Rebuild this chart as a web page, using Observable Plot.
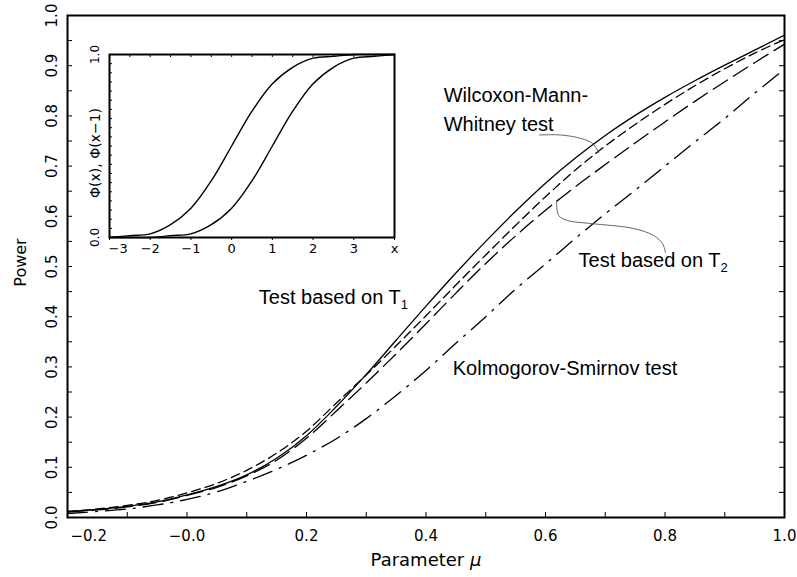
<!DOCTYPE html>
<html><head><meta charset="utf-8">
<script src="https://cdn.jsdelivr.net/npm/d3@7"></script>
<script src="https://cdn.jsdelivr.net/npm/@observablehq/plot@0.6"></script>
<style>
body{margin:0;background:#fff;}
#wrap{position:relative;width:797px;height:577px;background:#fff;}
#wrap svg{position:absolute;}
</style></head><body><div id="wrap"></div>
<script>
// ---- main chart data ----
const mu = [-0.20,-0.15,-0.10,-0.05,0.00,0.05,0.10,0.15,0.20,0.25,0.30,0.35,0.40,0.45,0.50,0.55,0.60,0.65,0.70,0.75,0.80,0.85,0.90,0.95,1.00];
const powerT1  = [0.012,0.016,0.022,0.031,0.045,0.062,0.085,0.118,0.163,0.221,0.285,0.353,0.421,0.487,0.550,0.610,0.666,0.716,0.761,0.801,0.837,0.870,0.901,0.931,0.961];
const powerWMW = [0.012,0.017,0.024,0.034,0.049,0.068,0.094,0.128,0.172,0.228,0.284,0.342,0.402,0.463,0.523,0.582,0.639,0.692,0.740,0.783,0.823,0.860,0.894,0.925,0.952];
const powerT2  = [0.011,0.015,0.021,0.030,0.044,0.060,0.083,0.114,0.158,0.212,0.268,0.326,0.386,0.447,0.506,0.561,0.612,0.659,0.703,0.746,0.788,0.829,0.868,0.906,0.943];
const powerKS  = [0.008,0.012,0.017,0.025,0.036,0.051,0.072,0.096,0.124,0.157,0.197,0.243,0.293,0.347,0.400,0.455,0.505,0.556,0.605,0.652,0.700,0.748,0.795,0.845,0.893];

const xTickValues = [-0.2,0.0,0.2,0.4,0.6,0.8,1.0];
const xTickLabels = ["\u22120.2","\u22120.0","0.2","0.4","0.6","0.8","1.0"];
const yTickValues = [0.0,0.1,0.2,0.3,0.4,0.5,0.6,0.7,0.8,0.9,1.0];
const yTickLabels = ["0.0","0.1","0.2","0.3","0.4","0.5","0.6","0.7","0.8","0.9","1.0"];
const xMinorTicks = [-0.2,-0.1,0.0,0.1,0.2,0.3,0.4,0.5,0.6,0.7,0.8,0.9,1.0];
const yMinorTicks = [0,0.05,0.1,0.15,0.2,0.25,0.3,0.35,0.4,0.45,0.5,0.55,0.6,0.65,0.7,0.75,0.8,0.85,0.9,0.95,1.0];

// annotations (data coordinates)
const noteText  = ["Wilcoxon-Mann-","Whitney test","Test based on T\u2082","Test based on T\u2081","Kolmogorov-Smirnov test"];
const noteMu    = [0.4295,0.4295,0.6553,0.1202,0.4448];
const notePower = [0.827,0.769,0.500,0.426,0.283];
const wmwLeaderMu = [0.590,0.625,0.660,0.679,0.689];
const wmwLeaderP  = [0.762,0.762,0.755,0.745,0.727];
const t2LeaderMu  = [0.6185,0.6219,0.6369,0.6754,0.7473,0.7808,0.7958,0.8008];
const t2LeaderP   = [0.6315,0.6016,0.5916,0.5857,0.5757,0.5618,0.5458,0.5279];

// ---- inset data ----
const phiX  = [-3,-2.5,-2,-1.5,-1,-0.5,0,0.5,1,1.5,2,2.5,3,3.5,4];
const phi0  = [0.00,0.01,0.02,0.07,0.16,0.31,0.50,0.69,0.84,0.93,0.98,0.99,1.00,1.00,1.00];
const phi1  = [0.00,0.00,0.00,0.01,0.02,0.07,0.16,0.31,0.50,0.69,0.84,0.93,0.98,0.99,1.00];
const insetXTicks = [-3,-2,-1,0,1,2,3,4];
const insetXLabels = ["\u22123","\u22122","\u22121","0","1","2","3","x"];
const insetTopTicks = [-3,-2.5,-2,-1.5,-1,-0.5,0,0.5,1,1.5,2,2.5,3,3.5,4];
const insetYTicks = [0,0.05,0.1,0.15,0.2,0.25,0.3,0.35,0.4,0.45,0.5,0.55,0.6,0.65,0.7,0.75,0.8,0.85,0.9,0.95,1.0];
const insetYLabelValues = [0,1];
const insetYLabels = ["0.0","1.0"];

// ---- build main ----
const W=797,H=577,mL=67,mR=13,mT=15,mB=60;
const fw=W-mL-mR, fh=H-mT-mB;
const series = [
  {key:"T1", vals:powerT1, dash:null},
  {key:"WMW", vals:powerWMW, dash:"9,5"},
  {key:"T2", vals:powerT2, dash:"17,7"},
  {key:"KS", vals:powerKS, dash:"20,8,2,8"}
];
const rows = series.flatMap(s => mu.map((m,i)=>({mu:m, power:s.vals[i], test:s.key})));
const notes = noteText.map((t,i)=>({t, mu:noteMu[i], p:notePower[i]}));
const xLab = xTickValues.map((v,i)=>({v, t:xTickLabels[i]}));
const yLab = yTickValues.map((v,i)=>({v, t:yTickLabels[i]}));
const tickFont = "DejaVu Sans";

const main = Plot.plot({
  width:W, height:H, marginLeft:mL, marginRight:mR, marginTop:mT, marginBottom:mB,
  style:{background:"transparent", fontFamily:tickFont},
  x:{domain:[-0.2,1.0], axis:null},
  y:{domain:[0,1], axis:null},
  marks:[
    ...series.map(s => Plot.line(rows.filter(r=>r.test===s.key), {x:"mu", y:"power", stroke:"black", strokeWidth:1.3, strokeDasharray:s.dash, curve:"catmull-rom"})),
    Plot.line(wmwLeaderMu.map((m,i)=>({m,p:wmwLeaderP[i]})), {x:"m", y:"p", stroke:"#555", strokeWidth:0.9, curve:"catmull-rom"}),
    Plot.line(t2LeaderMu.map((m,i)=>({m,p:t2LeaderP[i]})), {x:"m", y:"p", stroke:"#555", strokeWidth:0.9, curve:"catmull-rom"}),
    Plot.text(notes, {x:"mu", y:"p", text:"t", textAnchor:"start", lineAnchor:"bottom", fontSize:20, fontFamily:"Liberation Sans", fill:"black"}),
    Plot.tickY(yMinorTicks, {y:d=>d, insetRight:fw-5, stroke:"black"}),
    Plot.tickY(yMinorTicks, {y:d=>d, insetLeft:fw-5, stroke:"black"}),
    Plot.tickX(xMinorTicks, {x:d=>d, insetTop:fh-5, stroke:"black"}),
    Plot.frame({stroke:"black", strokeWidth:2}),
    Plot.text(xLab.slice(0,1), {x:"v", y:()=>0, text:"t", dy:19, dx:3, textAnchor:"start", fontSize:15}),
    Plot.text(xLab.slice(1), {x:"v", y:()=>0, text:"t", dy:19, fontSize:15}),
    Plot.text(yLab, {x:()=>-0.2, y:"v", text:"t", dx:-15, rotate:-90, fontSize:15}),
    Plot.text(["Parameter \u03bc"], {frameAnchor:"bottom", textAnchor:"middle", dy:48, fontSize:18, letterSpacing:2}),
    Plot.text(["Power"], {frameAnchor:"left", textAnchor:"middle", dx:-47, dy:-4, rotate:-90, fontSize:16, letterSpacing:1})
  ]
});
main.style.left="0px"; main.style.top="0px";

// ---- build inset ----
const iW=340, iH=230, iL=39, iR=16, iT=14, iB=33;
const ifw=iW-iL-iR, ifh=iH-iT-iB;
const phiRows = phiX.flatMap((x,i)=>[{x, p:phi0[i], c:"a"},{x, p:phi1[i], c:"b"}]);
const iXLab = insetXTicks.map((v,i)=>({v, t:insetXLabels[i]}));
const iYLab = insetYLabelValues.map((v,i)=>({v, t:insetYLabels[i]}));
const inset = Plot.plot({
  width:iW, height:iH, marginLeft:iL, marginRight:iR, marginTop:iT, marginBottom:iB,
  style:{background:"transparent", fontFamily:tickFont},
  x:{domain:[-3,4], axis:null},
  y:{domain:[0,1], axis:null},
  marks:[
    Plot.line(phiRows, {x:"x", y:"p", z:"c", stroke:"black", strokeWidth:1.4, curve:"catmull-rom"}),
    Plot.tickY(insetYTicks, {y:d=>d, insetRight:ifw-3, stroke:"black"}),
    Plot.tickX(insetTopTicks, {x:d=>d, insetBottom:ifh-3, stroke:"black"}),
    Plot.axisX(insetXTicks, {anchor:"bottom", tickSize:3, tickFormat:()=>"", stroke:"black"}),
    Plot.frame({stroke:"black", strokeWidth:2}),
    Plot.text(iXLab.slice(0,1), {x:"v", y:()=>0, text:"t", dy:11, dx:-1, textAnchor:"start", fontSize:13}),
    Plot.text(iXLab.slice(1), {x:"v", y:()=>0, text:"t", dy:11, fontSize:13}),
    Plot.text(iYLab, {x:()=>-3, y:"v", text:"t", dx:-14, rotate:-90, fontSize:12}),
    Plot.text(["\u03a6(x), \u03a6(x\u22121)"], {frameAnchor:"left", textAnchor:"middle", dx:-14, dy:7, rotate:-90, fontSize:14, letterSpacing:1})
  ]
});
inset.style.left="70px"; inset.style.top="40px";

const wrap = document.getElementById("wrap");
wrap.appendChild(main);
wrap.appendChild(inset);

// real subscripts / italic mu
wrap.querySelectorAll("text").forEach(el=>{
  const s = el.textContent;
  if (s.endsWith("T\u2081") || s.endsWith("T\u2082")) {
    const sub = s.endsWith("\u2081") ? "1" : "2";
    el.textContent = s.slice(0,-1);
    const ts = document.createElementNS("http://www.w3.org/2000/svg","tspan");
    ts.setAttribute("font-size","13"); ts.setAttribute("dy","5"); ts.textContent = sub;
    el.appendChild(ts);
  } else if (s === "Parameter \u03bc") {
    el.textContent = "Parameter ";
    const ts = document.createElementNS("http://www.w3.org/2000/svg","tspan");
    ts.setAttribute("font-style","italic"); ts.textContent = "\u03bc";
    el.appendChild(ts);
  }
});
</script></body></html>
